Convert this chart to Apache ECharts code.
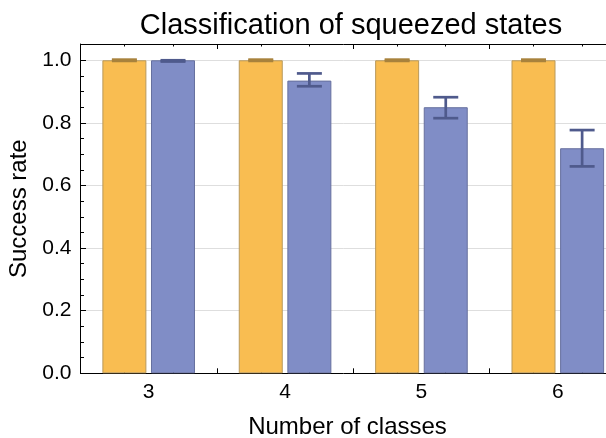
<!DOCTYPE html>
<html><head><meta charset="utf-8">
<script src="https://cdn.jsdelivr.net/npm/echarts@6/dist/echarts.min.js"></script>
<style>html,body{margin:0;padding:0;background:#fff}#c{width:606px;height:438px}</style>
</head><body><div id="c"></div>
<script>
// ---- data ----
const categories = ['3', '4', '5', '6'];
const seriesARate = [1.0, 1.0, 1.0, 1.0];
const seriesALow  = [0.998, 0.998, 0.998, 0.998];
const seriesAHigh = [1.002, 1.002, 1.002, 1.002];
const seriesBRate = [1.0, 0.935, 0.850, 0.719];
const seriesBLow  = [0.996, 0.917, 0.815, 0.661];
const seriesBHigh = [1.0, 0.958, 0.882, 0.777];
const yMin = 0, yMax = 1.052, yStep = 0.2, yMinorStep = 0.05;

// ---- layout / style ----
const W = 606, H = 438;
const GRID_LEFT = 80.5, GRID_WIDTH = 545.5, GRID_TOP = 44, GRID_HEIGHT = 329.3;
const BAR_WIDTH = 44, BAR_GAP_PCT = 10.5;
const BAR_GAP_PX = BAR_WIDTH * BAR_GAP_PCT / 100;
const CAP_WIDTH = 25, ERR_LW = 2.7;
const FONT = '"Liberation Sans", Arial, Helvetica, sans-serif';
const COLOR_A = '#F9BD51', COLOR_B = '#808DC6';
const EDGE_A = '#b8995c', EDGE_B = '#66709e';
const ERR_A = '#A8823C', ERR_B = '#4F5A8C';

const bandPx = GRID_WIDTH / categories.length;
const centerOffsetPx = (BAR_WIDTH + BAR_GAP_PX) / 2;
const fracA = (bandPx / 2 - centerOffsetPx) / bandPx;
const fracB = (bandPx / 2 + centerOffsetPx) / bandPx;
const barCenterTicks = [];
categories.forEach((c, i) => { barCenterTicks.push(i + fracA, i + fracB); });

function errRenderer(sign, color) {
  return function (params, api) {
    const c = api.value(0);
    const lo = api.coord([c, api.value(1)]);
    const hi = api.coord([c, api.value(2)]);
    const x = lo[0] + sign * centerOffsetPx;
    const hw = CAP_WIDTH / 2;
    const style = { stroke: color, lineWidth: ERR_LW, fill: null };
    return { type: 'group', children: [
      { type: 'line', shape: { x1: x, y1: lo[1], x2: x, y2: hi[1] }, style: style },
      { type: 'line', shape: { x1: x - hw, y1: lo[1], x2: x + hw, y2: lo[1] }, style: style },
      { type: 'line', shape: { x1: x - hw, y1: hi[1], x2: x + hw, y2: hi[1] }, style: style }
    ]};
  };
}

const axisLineStyle = { color: '#000', width: 1 };
const chart = echarts.init(document.getElementById('c'), null, { renderer: 'canvas' });
chart.setOption({
  animation: false,
  backgroundColor: '#fff',
  textStyle: { fontFamily: FONT },
  title: {
    text: 'Classification of squeezed states',
    left: 346, top: 6, textAlign: 'center',
    textStyle: { fontSize: 29, fontWeight: 'normal', color: '#000', fontFamily: FONT }
  },
  grid: { left: GRID_LEFT, width: GRID_WIDTH, top: GRID_TOP, height: GRID_HEIGHT,
    containLabel: false, outerBoundsMode: 'none' },
  xAxis: [
    { type: 'category', data: categories, position: 'bottom',
      name: 'Number of classes', nameLocation: 'middle', nameGap: 42,
      nameTextStyle: { fontSize: 24, color: '#000', fontFamily: FONT, padding: [0, 11.5, 0, 0] },
      axisLine: { onZero: false, lineStyle: axisLineStyle },
      axisTick: { show: true, inside: true, length: 5, lineStyle: axisLineStyle },
      axisLabel: { fontSize: 21, color: '#000', margin: 8, fontFamily: FONT },
      splitLine: { show: false } },
    { type: 'category', data: categories, position: 'top',
      axisLine: { onZero: false, lineStyle: axisLineStyle },
      axisTick: { show: true, inside: true, length: 5, lineStyle: axisLineStyle },
      axisLabel: { show: false }, splitLine: { show: false } },
    { type: 'value', min: 0, max: categories.length, position: 'bottom',
      axisLine: { show: false, onZero: false },
      axisTick: { show: true, inside: true, length: 2.5, customValues: barCenterTicks, lineStyle: axisLineStyle },
      axisLabel: { show: false }, splitLine: { show: false } },
    { type: 'value', min: 0, max: categories.length, position: 'top',
      axisLine: { show: false, onZero: false },
      axisTick: { show: true, inside: true, length: 2.5, customValues: barCenterTicks, lineStyle: axisLineStyle },
      axisLabel: { show: false }, splitLine: { show: false } }
  ],
  yAxis: [
    { type: 'value', min: yMin, max: yMax, interval: yStep, position: 'left',
      name: 'Success rate', nameLocation: 'middle', nameGap: 46,
      nameTextStyle: { fontSize: 24, color: '#000', fontFamily: FONT },
      axisLine: { show: true, onZero: false, lineStyle: axisLineStyle },
      axisTick: { show: true, inside: true, length: 5.5, lineStyle: axisLineStyle },
      axisLabel: { fontSize: 21, color: '#000', margin: 9, fontFamily: FONT, showMaxLabel: false,
        formatter: v => (Math.abs(v / yStep - Math.round(v / yStep)) < 1e-6 ? v.toFixed(1) : '') },
      splitLine: { show: true, lineStyle: { color: '#dedede', width: 1 } } },
    { type: 'value', min: yMin, max: yMax, interval: yMinorStep, position: 'left',
      axisLine: { show: false, onZero: false },
      axisTick: { show: true, inside: true, length: 3.5, lineStyle: axisLineStyle },
      axisLabel: { show: false }, splitLine: { show: false } }
  ],
  series: [
    { name: 'A', type: 'bar', data: seriesARate, barWidth: BAR_WIDTH, barGap: BAR_GAP_PCT + '%',
      itemStyle: { color: COLOR_A, borderColor: EDGE_A, borderWidth: 1 } },
    { name: 'B', type: 'bar', data: seriesBRate, barWidth: BAR_WIDTH, barGap: BAR_GAP_PCT + '%',
      itemStyle: { color: COLOR_B, borderColor: EDGE_B, borderWidth: 1 } },
    { name: 'A error', type: 'custom', z: 5, renderItem: errRenderer(-1, ERR_A),
      encode: { x: 0, y: [1, 2] },
      data: categories.map((c, i) => [i, seriesALow[i], seriesAHigh[i]]) },
    { name: 'B error', type: 'custom', z: 5, renderItem: errRenderer(1, ERR_B),
      encode: { x: 0, y: [1, 2] },
      data: categories.map((c, i) => [i, seriesBLow[i], seriesBHigh[i]]) }
  ]
});
</script>
</body></html>
